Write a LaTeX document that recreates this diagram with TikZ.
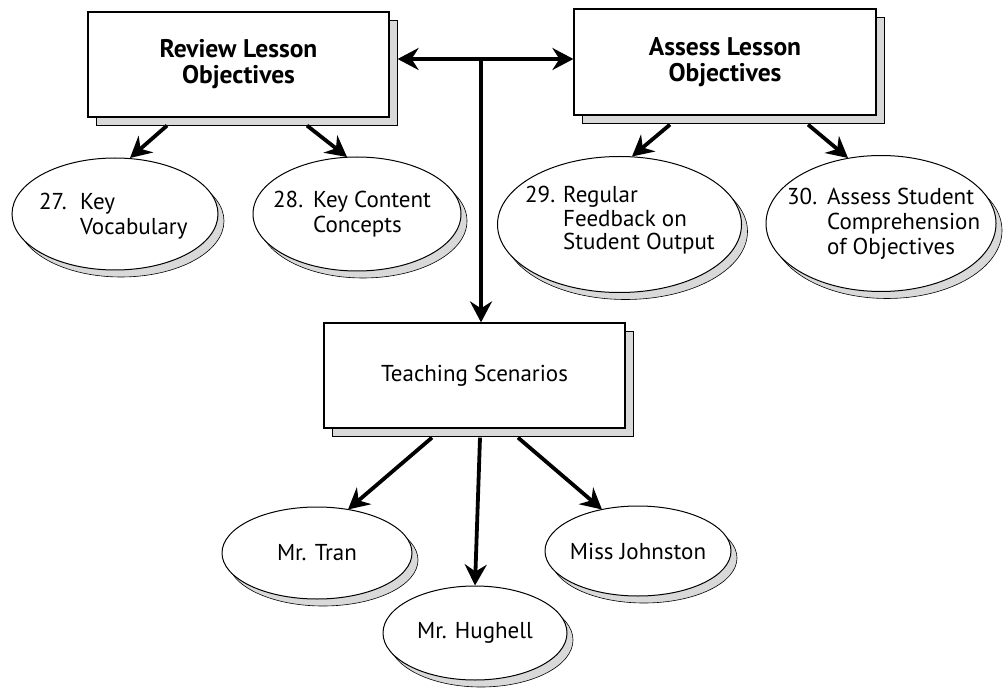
\documentclass[tikz,border=0pt]{standalone}
\usepackage{fontspec}
\setmainfont{PT Sans}
\usetikzlibrary{arrows.meta,shapes.geometric,shadows,calc}
\begin{document}
\begin{tikzpicture}[x=1pt,y=-1pt,
  boxshadow/.style={drop shadow={shadow xshift=8pt,shadow yshift=-8pt,fill=gray!30,draw=black,line width=0.7pt,opacity=1}},
  ellshadow/.style={drop shadow={shadow xshift=6pt,shadow yshift=-7pt,fill=gray!30,draw=black,line width=0.6pt,opacity=1}},
  boxnode/.style={rectangle,draw=black,line width=1.2pt,fill=white,inner sep=0pt,align=center,boxshadow},
  ellnode/.style={ellipse,draw=black,line width=1pt,fill=white,inner sep=0pt,ellshadow},
  titlefont/.style={font=\fontsize{25.5}{26}\selectfont\bfseries},
  bodyfont/.style={font=\fontsize{23}{25}\selectfont},
  lab/.style={inner sep=0pt,bodyfont},
  arr/.style={line width=3.8pt,-{Stealth[length=21pt,width=22pt,inset=7pt]}},
  arrtwo/.style={line width=3.8pt,{Stealth[length=21pt,width=22pt,inset=7pt]}-{Stealth[length=21pt,width=22pt,inset=7pt]}}
]
\useasboundingbox (0,0) rectangle (1003,692);

% boxes
\node[boxnode,titlefont,minimum width=301pt,minimum height=105pt] (rev) at (238.5,64.5) {Review Lesson\\Objectives};
\node[boxnode,titlefont,minimum width=302pt,minimum height=106pt] (ass) at (725,62) {Assess Lesson\\Objectives};
\node[boxnode,bodyfont,minimum width=301pt,minimum height=105pt] (tea) at (474.5,375.5) {Teaching Scenarios};

% ellipses
\node[ellnode,minimum width=206pt,minimum height=112pt] (e27) at (115,214) {};
\node[ellnode,minimum width=208pt,minimum height=114pt] (e28) at (357,214) {};
\node[ellnode,minimum width=244pt,minimum height=136pt] (e29) at (619.5,224.5) {};
\node[ellnode,minimum width=230pt,minimum height=136pt] (e30) at (881,223.5) {};
\node[ellnode,minimum width=190pt,minimum height=92pt] (etran) at (317,553) {};
\node[ellnode,minimum width=184pt,minimum height=94pt] (ehug) at (475,633) {};
\node[ellnode,minimum width=186pt,minimum height=90pt] (ejohn) at (638,551) {};

% ellipse labels
\node[lab,anchor=base west] (t27) at (39,210) {\begin{tabular}[t]{@{}p{41pt}@{}l@{}}27.&Key\\&Vocabulary\end{tabular}};
\node[lab,anchor=base west] (t28) at (273,208) {\begin{tabular}[t]{@{}p{40pt}@{}l@{}}28.&Key Content\\&Concepts\end{tabular}};
\node[lab,font=\fontsize{23}{23.5}\selectfont,anchor=base west] (t29) at (525,203) {\begin{tabular}[t]{@{}p{38pt}@{}l@{}}29.&Regular\\&Feedback on\\&Student Output\end{tabular}};
\node[lab,anchor=base west] (t30) at (787,205) {\begin{tabular}[t]{@{}p{40pt}@{}l@{}}30.&Assess Student\\&Comprehension\\&of Objectives\end{tabular}};
\node[lab] (ttran) at (etran.center) {Mr. Tran};
\node[lab] (thug) at (ehug.center) {Mr. Hughell};
\node[lab] (tjohn) at (ejohn.center) {Miss Johnston};

% connectors
\coordinate (hub) at (481,59);
\draw[arrtwo] ($(hub -| rev.east)+(8,0)$) -- (hub -| ass.west);
\draw[arr] (hub) -- (hub |- tea.north);

\draw[arr] ($(rev.south)+(-71.5,8)$) -- ($(e27.center)+(15,-56)$);
\draw[arr] ($(rev.south)+(68.5,8)$) -- ($(e28.center)+(-10,-57)$);
\draw[arr] ($(ass.south)+(-55,9)$) -- ($(e29.center)+(12.5,-68)$);
\draw[arr] ($(ass.south)+(83,9)$) -- ($(e30.center)+(-33,-65.5)$);
\draw[arr] ($(tea.south)+(-42.5,9)$) -- ($(etran.center)+(31,-43.5)$);
\draw[arr] ($(tea.south)+(5.5,9)$) -- (ehug.north);
\draw[arr] ($(tea.south)+(43.5,9)$) -- ($(ejohn.center)+(-36,-41.5)$);
\end{tikzpicture}
\end{document}
